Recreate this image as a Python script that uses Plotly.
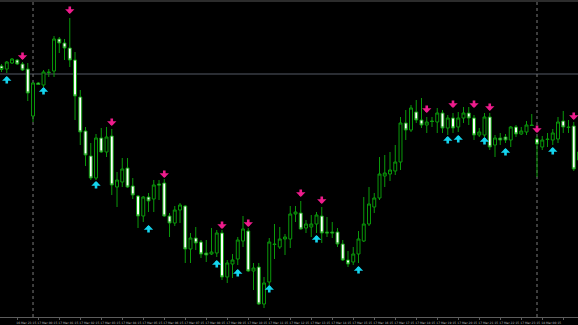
import plotly.graph_objects as go

# ---- data (M15 bars, price in chart points) ----
bar_idx = list(range(111))
opens = [334,331,337,340,336,331,284,317,315,328,329,361,357,352,340,303,269,244,222,262,
         248,264,213,218,232,214,204,184,203,201,216,217,184,177,190,194,151,162,158,147,
         146,147,167,123,136,141,159,169,129,133,96,118,156,153,161,161,186,187,172,173,
         176,184,168,168,168,156,140,138,146,159,176,193,202,224,226,229,238,277,270,288,
         280,275,279,278,287,272,282,273,282,287,282,265,265,283,255,262,263,260,273,266,
         268,275,261,253,261,260,261,279,273,274,240]
highs = [336,339,342,341,338,337,318,318,330,331,364,363,361,382,348,310,273,257,266,272,
         273,271,228,242,242,222,205,204,207,220,220,221,187,194,197,195,167,173,160,160,
         172,170,170,140,146,163,184,172,137,137,123,162,176,173,166,194,194,199,180,185,
         188,193,183,178,172,160,149,153,169,203,213,207,243,245,248,255,283,290,295,300,
         302,283,283,292,290,285,287,288,293,293,285,272,287,287,265,267,266,274,275,273,
         279,286,264,264,267,271,283,289,280,278,252]
lows = [328,327,336,335,329,299,278,315,313,323,323,347,340,333,280,255,234,220,220,247,
        243,205,193,213,212,201,172,178,188,188,200,183,163,174,177,137,137,150,142,138,
        145,143,120,117,122,135,153,128,110,95,92,113,141,151,145,152,178,170,167,163,
        167,157,163,162,153,139,133,135,137,158,174,187,200,213,219,225,230,260,268,277,
        272,267,273,267,267,265,267,268,277,275,260,263,263,250,243,255,257,253,263,265,
        265,274,223,250,253,255,257,267,267,229,228]
closes = [330.5,338,341,336,330,307,317,315.5,328,327.5,361,357,352,340,304,268,245,222,262,248,
          263,215,220,231,213,205,184,203,199,215,215,184,177,190,195,151,162,157,146,145,
          148,167,123,137,140,160,171,129,132,96,117,158,155.5,161,163,186,188,171,176,176,
          185,167,167,167,156,140,136,146,161,176,196,202,226,227,230,238,277,270,292,280,
          275,278,278.5,287,272,282,272,282,287,282,265,268,283,253,262,260,260,273,266,269,
          275,274.5,256,260,260.5,267,278,273,272.5,231,248]

# signal arrows: (bar index, price at arrow tip)
sell_idx = [4, 13, 21, 31, 42, 47, 57, 61, 81, 86, 90, 93, 102, 109]
sell_px = [340, 386, 274, 222, 171, 173, 203, 196, 287, 292, 292, 289, 267, 280]
buy_idx = [1, 8, 18, 28, 41, 45, 51, 60, 68, 85, 87, 92, 96, 105]
buy_px = [324, 313, 219, 175, 140, 131, 115, 165, 134, 264, 265, 263, 252, 253]

hline_level = 326
day_separators = [6, 102]

tick_idx = [3, 7, 11, 15, 19, 23, 27, 31, 35, 39, 43, 47, 51, 55, 59, 63, 67, 71, 75,
            79, 83, 87, 91, 95, 99, 103, 107]
tick_text = ["16 Mar 23:15", "17 Mar 00:15", "17 Mar 01:15", "17 Mar 02:15", "17 Mar 03:15",
             "17 Mar 04:15", "17 Mar 05:15", "17 Mar 06:15", "17 Mar 07:15", "17 Mar 08:15",
             "17 Mar 09:15", "17 Mar 10:15", "17 Mar 11:15", "17 Mar 12:15", "17 Mar 13:15",
             "17 Mar 14:15", "17 Mar 15:15", "17 Mar 16:15", "17 Mar 17:15", "17 Mar 18:15",
             "17 Mar 19:15", "17 Mar 20:15", "17 Mar 21:15", "17 Mar 22:15", "17 Mar 23:15",
             "18 Mar 00:15", "18 Mar 01:15"]

GREEN = "#0a9a0a"
CYAN = "#14d4ee"
PINK = "#ee1c8c"

fig = go.Figure()
fig.add_trace(go.Candlestick(
    x=bar_idx, open=opens, high=highs, low=lows, close=closes,
    increasing=dict(line=dict(color=GREEN, width=1), fillcolor="#000000"),
    decreasing=dict(line=dict(color=GREEN, width=1), fillcolor="#ffffff"),
    whiskerwidth=0, hoverinfo="skip", showlegend=False,
))

annotations = []
for i, p in zip(buy_idx, buy_px):
    annotations.append(dict(x=i, y=p, xref="x", yref="y", text="", showarrow=True,
                            ax=0, ay=9, arrowhead=1, arrowsize=0.6, arrowwidth=2.6,
                            arrowcolor=CYAN, standoff=0))
for i, p in zip(sell_idx, sell_px):
    annotations.append(dict(x=i, y=p, xref="x", yref="y", text="", showarrow=True,
                            ax=0, ay=-9, arrowhead=1, arrowsize=0.6, arrowwidth=2.6,
                            arrowcolor=PINK, standoff=0))

shapes = [dict(type="line", xref="paper", x0=0, x1=1, yref="y", y0=hline_level, y1=hline_level,
               line=dict(color="#545a66", width=1), layer="below")]
for d in day_separators:
    shapes.append(dict(type="line", xref="x", x0=d, x1=d, yref="paper", y0=0, y1=1,
                       line=dict(color="#7a7a7a", width=1, dash="dot"), layer="below"))
shapes.append(dict(type="rect", xref="paper", x0=0, x1=1, yref="paper", y0=1, y1=1.0065,
                   fillcolor="#2c2c2c", line=dict(width=0)))

fig.update_layout(
    width=578, height=325,
    margin=dict(l=0, r=0, t=2, b=8),
    paper_bgcolor="#000000", plot_bgcolor="#000000",
    showlegend=False, boxgap=0.2,
    annotations=annotations, shapes=shapes,
    xaxis=dict(range=[-0.29, 109.81], rangeslider=dict(visible=False),
               showgrid=False, zeroline=False, showline=True, linecolor="#5c5c5c", linewidth=1,
               tickmode="array", tickvals=tick_idx, ticktext=tick_text, tickangle=0,
               ticks="outside", ticklen=2, tickcolor="#5c5c5c",
               tickfont=dict(family="DejaVu Sans", size=3, color="#b8b8b8"),
               ticklabelshift=9, ticklabelstandoff=0),
    yaxis=dict(range=[83, 398], showgrid=False, zeroline=False, showticklabels=False,
               showline=False),
)

fig.write_html("out.html")
